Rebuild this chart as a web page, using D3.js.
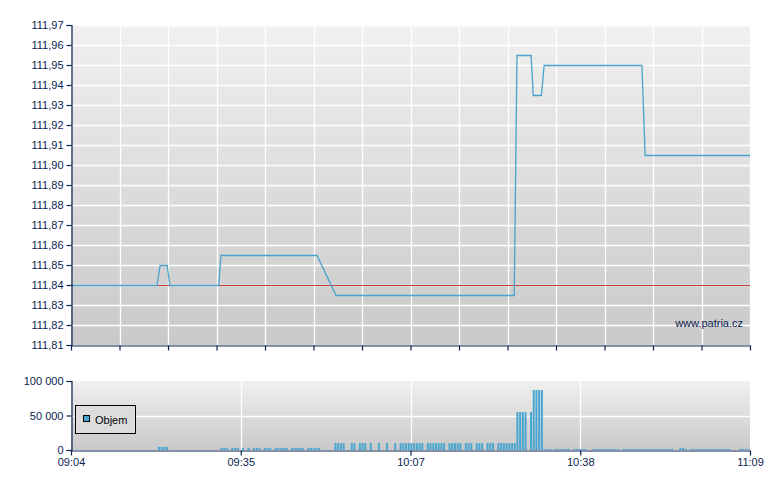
<!DOCTYPE html>
<html><head><meta charset="utf-8">
<script src="https://cdn.jsdelivr.net/npm/d3@7"></script>
<style>
html,body{margin:0;padding:0;background:#fff;}
svg{display:block;font-family:"Liberation Sans",Arial,sans-serif;}
</style></head>
<body>
<svg id="chart" width="780" height="490"></svg>
<script>
// ---------- DATA ----------
const timeStart = "09:04:00";
const timeEnd = "11:09:00";
const priceTimes = ["09:04:00","09:19:50","09:20:24","09:21:42","09:22:12","09:31:12","09:31:36","09:49:18","09:52:48","10:25:36","10:26:06","10:28:42","10:29:06","10:30:36","10:31:06","10:49:06","10:49:42","11:09:00"];
const priceValues = [111.84,111.84,111.85,111.85,111.84,111.84,111.855,111.855,111.835,111.835,111.955,111.955,111.935,111.935,111.95,111.95,111.905,111.905];
const referencePrice = 111.84;
const priceTicks = [111.81,111.82,111.83,111.84,111.85,111.86,111.87,111.88,111.89,111.90,111.91,111.92,111.93,111.94,111.95,111.96,111.97];
const volumeTicks = [0, 50000, 100000];
const timeLabels = ["09:04","09:35","10:07","10:38","11:09"];
const volTimes = [
 "09:20:00","09:20:30","09:21:00","09:21:30",
 "09:31:30","09:32:00","09:32:30","09:33:30","09:34:00","09:34:30","09:35:30","09:36:30","09:37:30","09:38:00","09:38:30",
 "09:39:30","09:40:00","09:40:30","09:41:30","09:42:00","09:42:30","09:43:00","09:43:30","09:44:30","09:45:00","09:45:30",
 "09:46:00","09:46:30","09:47:30","09:48:00","09:48:30","09:49:00","09:49:30",
 "09:52:30","09:53:00","09:53:30","09:54:00","09:55:30","09:56:00","09:57:00","09:57:30","09:58:00","09:59:00",
 "10:00:30","10:02:00","10:03:30","10:04:30","10:05:00","10:05:30","10:06:00","10:06:30","10:07:00","10:07:30","10:08:00","10:08:30",
 "10:09:30","10:10:00","10:10:30","10:11:00","10:11:30","10:12:00","10:12:30","10:13:30","10:14:00","10:14:30","10:15:00","10:15:30",
 "10:16:30","10:17:00","10:17:30","10:18:30","10:19:00","10:19:30","10:20:30","10:21:00","10:21:30","10:22:30","10:23:00","10:23:30",
 "10:24:00","10:24:30","10:25:00","10:25:30",
 "10:26:00","10:26:30","10:27:00","10:27:30","10:28:30",
 "10:29:00","10:29:30","10:30:00","10:30:30",
 "10:31:00","10:31:30","10:32:00","10:33:00","10:33:30","10:34:00","10:34:30","10:35:00","10:35:30","10:36:30","10:37:00","10:37:30",
 "10:38:00","10:38:30","10:40:00","10:40:30","10:41:00","10:41:30","10:42:00","10:42:30","10:43:00","10:43:30","10:44:00","10:44:30",
 "10:45:30","10:46:00","10:46:30","10:47:00","10:47:30","10:48:00","10:48:30","10:49:00","10:49:30","10:50:00","10:50:30","10:51:00",
 "10:51:30","10:52:00","10:52:30","10:53:00","10:53:30","10:54:00","10:54:30","10:56:00","10:56:30","10:57:00","10:58:00","10:58:30",
 "10:59:00","10:59:30","11:00:00","11:00:30","11:01:00","11:01:30","11:02:00","11:02:30","11:03:00","11:03:30","11:04:00","11:04:30",
 "11:05:00","11:07:00","11:07:30","11:08:00","11:08:30"
];
const volValues = [
 4500,4500,4500,4500,
 3000,3000,3000,3000,3000,3000,3000,3000,3000,3000,3000,
 3000,3000,3000,3000,3000,3000,3000,3000,3000,3000,3000,
 3000,3000,3000,3000,3000,3000,3000,
 10000,10000,10000,10000,10000,10000,10000,10000,10000,10000,
 10000,10000,10000,10000,10000,10000,10000,10000,10000,10000,10000,10000,
 10000,10000,10000,10000,10000,10000,10000,10000,10000,10000,10000,10000,
 10000,10000,10000,10000,10000,10000,10000,10000,10000,10000,10000,10000,
 10000,10000,10000,10000,
 55000,55000,55000,55000,55000,
 87000,87000,87000,87000,
 1500,1500,1500,1500,1500,1500,1500,1500,1500,1500,1500,1500,
 1500,1500,1500,1500,1500,1500,1500,1500,1500,1500,1500,1500,
 1500,1500,1500,1500,1500,1500,1500,1500,1500,1500,1500,1500,
 1500,1500,1500,1500,1500,1500,1500,3000,3000,1500,1500,1500,
 1500,1500,1500,1500,1500,1500,1500,1500,1500,1500,1500,1500,
 1500,1500,1500,1500,1500
];
const legendLabel = "Objem";
const watermark = "www.patria.cz";

// ---------- LAYOUT ----------
const navy = "#0b2350";
const parseT = d3.timeParse("%H:%M:%S");
const svg = d3.select("#chart");
const L = 71, R = 750;
const mainTop = 25, mainBot = 345;
const volTop = 381, volBot = 450;

const t0 = parseT(timeStart), t1 = parseT(timeEnd);
const x = d3.scaleTime().domain([t0, t1]).range([L, R]);
const y = d3.scaleLinear().domain([111.81, 111.97]).range([mainBot, mainTop]);
const yv = d3.scaleLinear().domain([0, 100000]).range([volBot, volTop]);

const loc = d3.formatLocale({decimal: ",", thousands: "\u00a0", grouping: [3], currency: ["", ""]});
const fPrice = loc.format(".2f");
const fVol = loc.format(",.0f");

// gradients
const defs = svg.append("defs");
const g1 = defs.append("linearGradient").attr("id","bg").attr("x1",0).attr("y1",0).attr("x2",0).attr("y2",1);
g1.append("stop").attr("offset","0%").attr("stop-color","#f0f0f0");
g1.append("stop").attr("offset","100%").attr("stop-color","#c9c9c9");

// ---------- MAIN CHART ----------
svg.append("rect").attr("x", L).attr("y", mainTop).attr("width", R - L).attr("height", mainBot - mainTop).attr("fill", "url(#bg)");

const mainDiv = 14;
const mainVTicks = d3.range(mainDiv + 1).map(i => new Date(+t0 + i * (t1 - t0) / mainDiv));

const gridMain = svg.append("g").attr("stroke", "#fff").attr("stroke-width", 1.3);
gridMain.selectAll("line.h").data(priceTicks.slice(1)).join("line")
  .attr("x1", L).attr("x2", R).attr("y1", d => Math.round(y(d)) + 0.5).attr("y2", d => Math.round(y(d)) + 0.5);
gridMain.selectAll("line.v").data(mainVTicks.slice(1)).join("line")
  .attr("x1", d => Math.round(x(d)) + 0.5).attr("x2", d => Math.round(x(d)) + 0.5).attr("y1", mainTop).attr("y2", mainBot);

// reference line
svg.append("line").attr("x1", L).attr("x2", R)
  .attr("y1", Math.round(y(referencePrice)) + 0.5).attr("y2", Math.round(y(referencePrice)) + 0.5)
  .attr("stroke", "#c0393b").attr("stroke-width", 1);

// price line
const priceData = priceTimes.map((t, i) => ({t: parseT(t), v: priceValues[i]}));
svg.append("path").datum(priceData)
  .attr("fill", "none").attr("stroke", "#4aa3cb").attr("stroke-width", 1.3)
  .attr("d", d3.line().x(d => x(d.t)).y(d => Math.round(y(d.v)) + 0.5));

// watermark
svg.append("text").attr("x", 743).attr("y", 327).attr("text-anchor", "end")
  .attr("font-size", 11).attr("fill", navy).text(watermark);

// left axis
const yAxis = d3.axisLeft(y).tickValues(priceTicks).tickFormat(fPrice).tickSize(5).tickPadding(3);
const ya = svg.append("g").attr("transform", `translate(${L + 0.5},0)`).call(yAxis);
// bottom axis (ticks only)
const xAxisMain = d3.axisBottom(x).tickValues(mainVTicks).tickFormat("").tickSize(5).tickSizeOuter(0);
const xa = svg.append("g").attr("transform", `translate(0,${mainBot + 0.5})`).call(xAxisMain);

// ---------- VOLUME CHART ----------
svg.append("rect").attr("x", L).attr("y", volTop).attr("width", R - L).attr("height", volBot - volTop).attr("fill", "url(#bg)");

const volTickPos = d3.range(timeLabels.length).map(i => new Date(+t0 + i * (t1 - t0) / (timeLabels.length - 1)));
const gridVol = svg.append("g").attr("stroke", "#fff").attr("stroke-width", 1.3);
gridVol.append("line").attr("x1", L).attr("x2", R)
  .attr("y1", Math.round(yv(50000)) + 0.5).attr("y2", Math.round(yv(50000)) + 0.5);
gridVol.selectAll("line.v").data(volTickPos.slice(1, -1)).join("line")
  .attr("x1", d => Math.round(x(d)) + 0.5).attr("x2", d => Math.round(x(d)) + 0.5).attr("y1", volTop).attr("y2", volBot);

const volData = volTimes.map((t, i) => ({t: parseT(t), v: volValues[i]}));
svg.append("g").attr("fill", "#4aa6d0").selectAll("rect").data(volData).join("rect")
  .attr("x", d => x(d.t)).attr("width", 2)
  .attr("y", d => yv(d.v)).attr("height", d => volBot - yv(d.v));

const yvAxis = d3.axisLeft(yv).tickValues(volumeTicks).tickFormat(fVol).tickSize(5).tickPadding(3);
const yva = svg.append("g").attr("transform", `translate(${L + 0.5},0)`).call(yvAxis);
const xvAxis = d3.axisBottom(x).tickValues(volTickPos).tickFormat((d, i) => timeLabels[i]).tickSize(5).tickSizeOuter(0).tickPadding(3);
const xva = svg.append("g").attr("transform", `translate(0,${volBot + 0.5})`).call(xvAxis);

// axis styling
[ya, xa, yva, xva].forEach(a => {
  a.select(".domain").attr("stroke", navy).attr("stroke-width", 1.2);
  a.selectAll(".tick line").attr("stroke", navy).attr("stroke-width", 1.2);
  a.selectAll(".tick text").attr("fill", navy).attr("font-size", 11)
    .attr("font-family", '"Liberation Sans", Arial, sans-serif');
});

// legend
const lg = svg.append("g");
lg.append("rect").attr("x", 75.5).attr("y", 405.5).attr("width", 60).attr("height", 28)
  .attr("fill", "#dcdcdc").attr("stroke", "#000").attr("stroke-width", 1);
lg.append("rect").attr("x", 83.5).attr("y", 415.5).attr("width", 6).attr("height", 6)
  .attr("fill", "#4aa6d0").attr("stroke", "#000").attr("stroke-width", 1);
lg.append("text").attr("x", 95).attr("y", 424).attr("font-size", 11).attr("fill", "#000").text(legendLabel);
</script>
</body></html>
